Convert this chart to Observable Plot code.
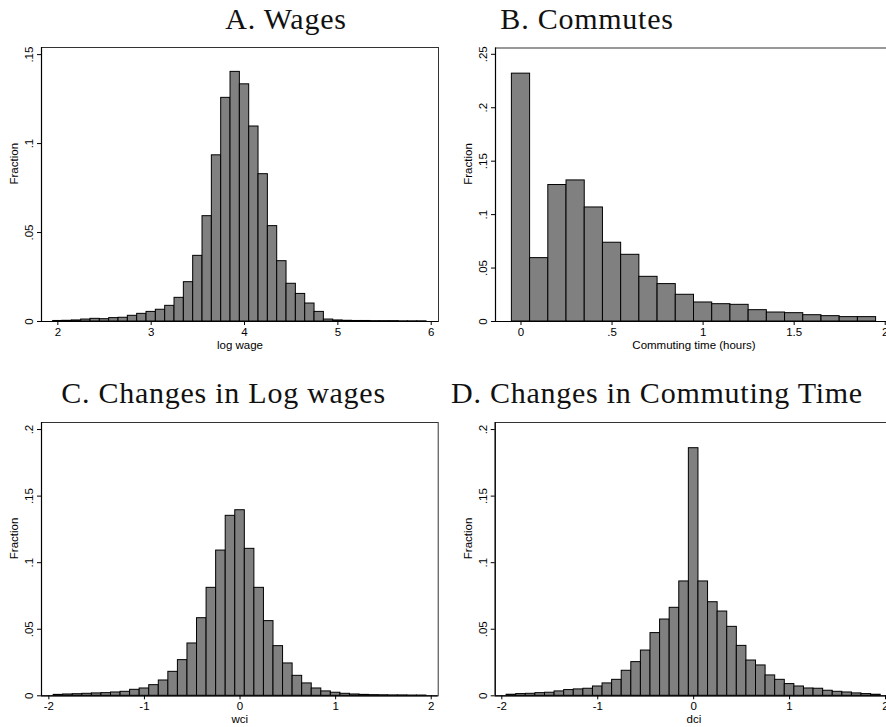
<!DOCTYPE html>
<html><head><meta charset="utf-8">
<script src="https://cdn.jsdelivr.net/npm/d3@7"></script>
<script src="https://cdn.jsdelivr.net/npm/@observablehq/plot@0.6"></script>
<style>
html,body{margin:0;padding:0;background:#fff;overflow:hidden}
#wrap{position:relative;width:886px;height:727px;overflow:hidden;background:#fff}
.panel{position:absolute}
.title{position:absolute;font-family:"Liberation Serif","Times New Roman",serif;font-size:30px;letter-spacing:0.75px;line-height:1;white-space:nowrap;transform:translateX(-50%);color:#111}
</style></head><body><div id="wrap"></div>
<script>
// A. Wages (log wage), bin centers and fractions
const wageBins = [2.0,2.1,2.2,2.3,2.4,2.5,2.6,2.7,2.8,2.9,3.0,3.1,3.2,3.3,3.4,3.5,3.6,3.7,3.8,3.9,4.0,4.1,4.2,4.3,4.4,4.5,4.6,4.7,4.8,4.9,5.0,5.1,5.2,5.3,5.4,5.5,5.6,5.7,5.8,5.9];
const wageFrac = [0.0003,0.0004,0.0006,0.0011,0.0015,0.0013,0.0019,0.0021,0.0032,0.0043,0.0054,0.0066,0.0088,0.0133,0.0221,0.0369,0.0592,0.0934,0.1257,0.1403,0.1333,0.1096,0.0828,0.0536,0.0339,0.0212,0.0155,0.0101,0.0054,0.0011,0.0006,0.0004,0.0003,0.0003,0.0002,0.0002,0.0002,0.0001,0.0001,0.0001];
// B. Commutes (hours)
const commuteBins = [0,0.1,0.2,0.3,0.4,0.5,0.6,0.7,0.8,0.9,1.0,1.1,1.2,1.3,1.4,1.5,1.6,1.7,1.8,1.9];
const commuteFrac = [0.2319,0.0593,0.1277,0.1320,0.1067,0.0737,0.0624,0.0418,0.0350,0.0250,0.0178,0.0162,0.0156,0.0106,0.0084,0.0078,0.0059,0.0050,0.0041,0.0041];
// C. Changes in log wages (wci)
const wciBins = [-1.9,-1.8,-1.7,-1.6,-1.5,-1.4,-1.3,-1.2,-1.1,-1.0,-0.9,-0.8,-0.7,-0.6,-0.5,-0.4,-0.3,-0.2,-0.1,0,0.1,0.2,0.3,0.4,0.5,0.6,0.7,0.8,0.9,1.0,1.1,1.2,1.3,1.4,1.5,1.6,1.7,1.8,1.9];
const wciFrac = [0.0007,0.0010,0.0012,0.0015,0.0018,0.0020,0.0025,0.0030,0.0045,0.0055,0.0080,0.0115,0.0180,0.0268,0.0393,0.0583,0.0811,0.1091,0.1352,0.1394,0.1104,0.0811,0.0561,0.0373,0.0243,0.0150,0.0093,0.0055,0.0033,0.0023,0.0015,0.0010,0.0007,0.0005,0.0004,0.0003,0.0003,0.0002,0.0002];
// D. Changes in commuting time (dci)
const dciBins = [-1.9,-1.8,-1.7,-1.6,-1.5,-1.4,-1.3,-1.2,-1.1,-1.0,-0.9,-0.8,-0.7,-0.6,-0.5,-0.4,-0.3,-0.2,-0.1,0,0.1,0.2,0.3,0.4,0.5,0.6,0.7,0.8,0.9,1.0,1.1,1.2,1.3,1.4,1.5,1.6,1.7,1.8,1.9];
const dciFrac = [0.0008,0.0013,0.0015,0.0020,0.0023,0.0033,0.0043,0.0048,0.0053,0.0070,0.0093,0.0120,0.0188,0.0253,0.0340,0.0471,0.0573,0.0661,0.0859,0.1860,0.0859,0.0703,0.0633,0.0518,0.0375,0.0265,0.0228,0.0153,0.0120,0.0088,0.0070,0.0055,0.0053,0.0038,0.0030,0.0025,0.0018,0.0013,0.0008];

const titles = ["A. Wages","B. Commutes","C. Changes in Log wages","D. Changes in Commuting Time"];
const xLabels = ["log wage","Commuting time (hours)","wci","dci"];
const yLabel = "Fraction";
const ticksA = [2,3,4,5,6];
const ticksB = [0,0.5,1,1.5,2];
const ticksCD = [-2,-1,0,1,2];
const yTicksA = [0,0.05,0.1,0.15];
const yTicksB = [0,0.05,0.1,0.15,0.2,0.25];
const yTicksCD = [0,0.05,0.1,0.15,0.2];

const stataFmt = d => d === 0 ? "0" : String(+d.toFixed(4)).replace(/^(-?)0\./, "$1.");

const wrap = document.getElementById("wrap");

function panel(o) {
  const data = o.bins.map((b, i) => ({x1: b - o.bw / 2, x2: b + o.bw / 2, y: o.frac[i]}));
  const p = Plot.plot({
    width: o.width, height: o.height,
    marginLeft: o.mL, marginRight: o.mR, marginTop: o.mT, marginBottom: o.mB,
    style: {fontFamily: "'Liberation Sans', Arial, sans-serif", fontSize: "11.5px", background: "transparent", color: "#000", overflow: "visible"},
    x: {domain: o.xDomain},
    y: {domain: o.yDomain},
    marks: [
      Plot.rectY(data, {x1: "x1", x2: "x2", y: "y", fill: "#808080", stroke: "#000", strokeWidth: 1}),
      Plot.frame({stroke: "#333", strokeWidth: 1}),
      Plot.ruleY([o.yDomain[0]], {stroke: "#000", strokeWidth: 1.2}),
      Plot.ruleX([o.xDomain[0]], {stroke: "#000", strokeWidth: 1.2}),
      Plot.axisX({ticks: o.xTicks, tickFormat: stataFmt, tickSize: 4, tickPadding: 2.5, label: null}),
      Plot.axisY({ticks: o.yTicks, tickFormat: () => "", tickSize: 4, label: null}),
      Plot.text(o.yTicks, {y: d => d, text: stataFmt, frameAnchor: "left", dx: -12, rotate: -90, textAnchor: "middle", lineAnchor: "middle"}),
      Plot.text([o.xLabel], {text: d => d, frameAnchor: "bottom", dy: 24, lineAnchor: "middle"}),
      Plot.text([yLabel], {text: d => d, frameAnchor: "left", dx: -27, rotate: -90, lineAnchor: "middle"})
    ]
  });
  p.classList.add("panel");
  p.style.left = o.left + "px";
  p.style.top = o.top + "px";
  wrap.appendChild(p);
  const t = document.createElement("div");
  t.className = "title";
  t.textContent = o.title;
  t.style.left = o.tx + "px";
  t.style.top = o.ty + "px";
  wrap.appendChild(t);
}

panel({bins: wageBins, frac: wageFrac, bw: 0.1, xDomain: [1.825, 6.078], yDomain: [0, 0.154],
  xTicks: ticksA, yTicks: yTicksA, xLabel: xLabels[0], title: titles[0],
  width: 443, height: 360, mL: 41, mR: 5, mT: 47, mB: 39, left: 0, top: 0, tx: 286, ty: 3.5});
panel({bins: commuteBins, frac: commuteFrac, bw: 0.1, xDomain: [-0.14, 2.04], yDomain: [0, 0.2559],
  xTicks: ticksB, yTicks: yTicksB, xLabel: xLabels[1], title: titles[1],
  width: 455, height: 360, mL: 52, mR: 6, mT: 47.5, mB: 39, left: 443, top: 0, tx: 587, ty: 3.5});
panel({bins: wciBins, frac: wciFrac, bw: 0.1, xDomain: [-2.077, 2.073], yDomain: [0, 0.2053],
  xTicks: ticksCD, yTicks: yTicksCD, xLabel: xLabels[2], title: titles[2],
  width: 443, height: 367, mL: 41, mR: 5.3, mT: 62, mB: 31.7, left: 0, top: 360, tx: 223.5, ty: 378});
panel({bins: dciBins, frac: dciFrac, bw: 0.1, xDomain: [-2.069, 2.073], yDomain: [0, 0.2053],
  xTicks: ticksCD, yTicks: yTicksCD, xLabel: xLabels[3], title: titles[3],
  width: 455, height: 367, mL: 51.7, mR: 6, mT: 62, mB: 31.7, left: 443, top: 360, tx: 657, ty: 378});
</script></body></html>
